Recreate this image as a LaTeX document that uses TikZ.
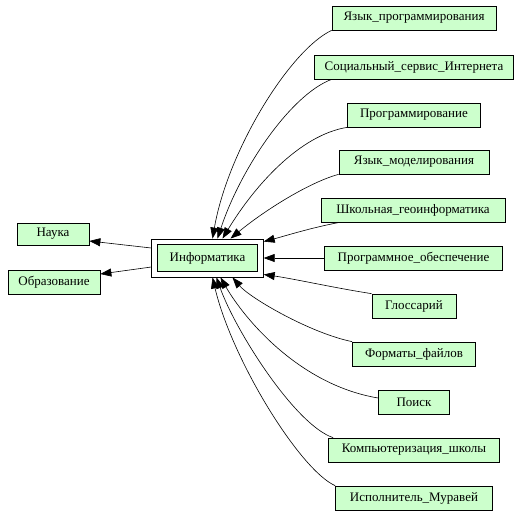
\documentclass[tikz,border=0pt]{standalone}
\usepackage{fontspec}
\setmainfont{Liberation Serif}
\usetikzlibrary{arrows.meta,calc,fit}
\definecolor{nodegreen}{RGB}{204,255,204}
\tikzset{
  box/.style={draw=black, fill=nodegreen, line width=0.7pt, minimum height=24pt,
    inner sep=0pt, font=\fontsize{13}{15}\selectfont, anchor=center},
  outerbox/.style={draw=black, line width=0.7pt, inner sep=5.5pt},
  edge/.style={draw=black, line width=0.6pt, -{Triangle[length=11pt,width=8pt]}},
}
\begin{document}
\begin{tikzpicture}[x=1pt,y=-1pt]
\useasboundingbox[fill=white] (0,0) rectangle (520,515);
% center node
\node[box, minimum width=100pt, minimum height=26.5pt] (inf) at (207.5,258) {Информатика};
\node[outerbox, fit=(inf)] (infout) {};
% left nodes
\node[box, minimum width=72pt, minimum height=22pt] (nauka) at (53,234) {Наука};
\node[box, minimum width=92pt] (obr) at (54,282) {Образование};
% right nodes
\node[box, minimum width=164pt] (n1) at (414,18) {Язык\_программирования};
\node[box, minimum width=199pt] (n2) at (414,67) {Социальный\_сервис\_Интернета};
\node[box, minimum width=133pt] (n3) at (414,115) {Программирование};
\node[box, minimum width=150pt] (n4) at (414,162) {Язык\_моделирования};
\node[box, minimum width=184pt] (n5) at (413,210) {Школьная\_геоинформатика};
\node[box, minimum width=178pt] (n6) at (413.5,258) {Программное\_обеспечение};
\node[box, minimum width=84pt] (n7) at (414,306) {Глоссарий};
\node[box, minimum width=123pt] (n8) at (414,354) {Форматы\_файлов};
\node[box, minimum width=71pt] (n9) at (414,402) {Поиск};
\node[box, minimum width=171pt] (n10) at (414,450) {Компьютеризация\_школы};
\node[box, minimum width=157pt] (n11) at (414,498) {Исполнитель\_Муравей};
% edges to the left
\draw[edge] ($(infout.west)+(0,-10)$) -- ($(nauka.east)+(0,7)$);
\draw[edge] ($(infout.west)+(0,9)$) -- ($(obr.east)+(0,-8)$);
% edges from the right
\draw[edge] (n1.south west) .. controls (290,50) and (228,150) .. ($(infout.north)+(5,0)$);
\draw[edge] ($(n2.south west)+(17.5,0)$) .. controls (290,95) and (240,170) .. ($(infout.north)+(10,0)$);
\draw[edge] (n3.south west) .. controls (300,135) and (255,185) .. ($(infout.north)+(15,0)$);
\draw[edge] (n4.south west) .. controls (310,182) and (265,210) .. ($(infout.north)+(23,0)$);
\draw[edge] ($(n5.south west)+(19,0)$) .. controls (310,228) and (285,236) .. ($(infout.north east)+(0,3)$);
\draw[edge] (n6.west) -- (infout.east);
\draw[edge] (n7.north west) .. controls (335,288) and (295,279) .. ($(infout.south east)+(0,-3)$);
\draw[edge] (n8.north west) .. controls (310,333) and (250,298) .. ($(infout.south)+(25,0)$);
\draw[edge] ($(n9.west)+(0,-4)$) .. controls (300,385) and (245,320) .. ($(infout.south)+(13,0)$);
\draw[edge] ($(n10.north west)+(5,0)$) .. controls (295,425) and (235,330) .. ($(infout.south)+(9,0)$);
\draw[edge] (n11.north west) .. controls (300,470) and (232,360) .. ($(infout.south)+(5,0)$);
\end{tikzpicture}
\end{document}
